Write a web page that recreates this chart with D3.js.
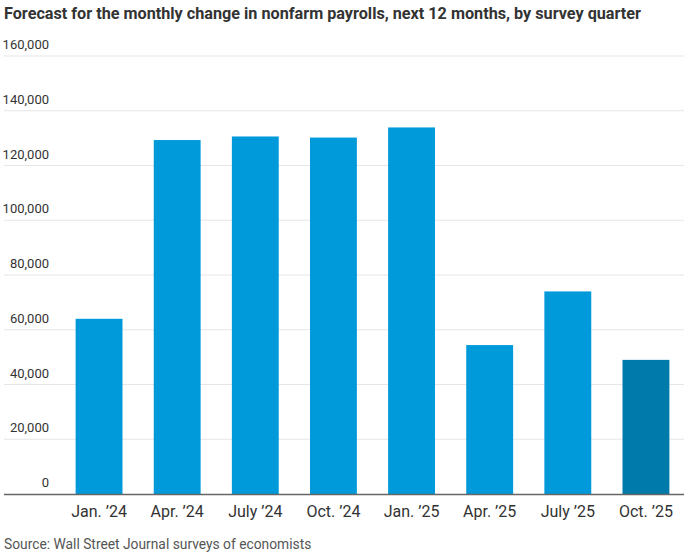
<!DOCTYPE html>
<html>
<head>
<meta charset="utf-8">
<script src="https://cdn.jsdelivr.net/npm/d3@7"></script>
<style>
  body { margin: 0; background: #fff; }
  svg { display: block; }
</style>
</head>
<body>
<svg id="chart" width="684" height="558"></svg>
<script>
const quarters = ["Jan. \u201924", "Apr. \u201924", "July \u201924", "Oct. \u201924", "Jan. \u201925", "Apr. \u201925", "July \u201925", "Oct. \u201925"];
const forecast = [64000, 129300, 130600, 130200, 133900, 54400, 74000, 49000];
const yTicks = [0, 20000, 40000, 60000, 80000, 100000, 120000, 140000, 160000];
const highlight = "Oct. \u201925";

const width = 684, height = 558;
const margin = { top: 56, right: 0, bottom: 64, left: 60 };
const font = "Roboto, 'Noto Sans', sans-serif";

const svg = d3.select("#chart");

// title, squeezed to the width of the narrow original face
svg.append("text")
    .attr("x", 4)
    .attr("y", 19)
    .attr("textLength", 637)
    .attr("lengthAdjust", "spacingAndGlyphs")
    .text("Forecast for the monthly change in nonfarm payrolls, next 12 months, by survey quarter")
    .style("font-family", font)
    .style("font-weight", "bold")
    .style("font-size", "17px")
    .style("fill", "#333");

const y = d3.scaleLinear()
    .domain([0, 160000])
    .range([height - margin.bottom, margin.top]);

const x = d3.scaleBand()
    .domain(quarters)
    .range([margin.left, width + 1])
    .paddingInner(0.4)
    .paddingOuter(0.2);

// gridlines + labels
const grid = svg.append("g").attr("class", "grid");
grid.selectAll("line")
    .data(yTicks.filter(d => d > 0))
    .join("line")
        .attr("x1", 4)
        .attr("x2", width)
        .attr("y1", d => y(d))
        .attr("y2", d => y(d))
        .style("stroke", "#e6e6e6")
        .style("stroke-width", 1.2);

grid.selectAll("text")
    .data(yTicks)
    .join("text")
        .attr("x", 49)
        .attr("y", d => y(d) - 7)
        .attr("text-anchor", "end")
        .text(d => d3.format(",")(d))
        .style("font-family", font)
        .style("font-size", "13px")
        .style("fill", "#333");

// bars
svg.append("g")
    .selectAll("rect")
    .data(quarters.map((q, i) => ({ q, v: forecast[i] })))
    .join("rect")
        .attr("x", d => x(d.q))
        .attr("width", x.bandwidth())
        .attr("y", d => y(d.v))
        .attr("height", d => y(0) - y(d.v))
        .style("fill", d => d.q === highlight ? "#0079ab" : "#0099da");

// baseline
svg.append("line")
    .attr("x1", 4)
    .attr("x2", width)
    .attr("y1", y(0) + 0.5)
    .attr("y2", y(0) + 0.5)
    .style("stroke", "#666")
    .style("stroke-width", 1.5);

// x labels
svg.append("g")
    .selectAll("text")
    .data(quarters)
    .join("text")
        .attr("x", d => x(d) + x.bandwidth() / 2)
        .attr("y", y(0) + 23)
        .attr("text-anchor", "middle")
        .text(d => d)
        .style("font-family", font)
        .style("font-size", "16px")
        .style("fill", "#333");

// source
svg.append("text")
    .attr("x", 4)
    .attr("y", 549)
    .text("Source: Wall Street Journal surveys of economists")
    .style("font-family", font)
    .style("font-size", "13.8px")
    .style("fill", "#555");
</script>
</body>
</html>
